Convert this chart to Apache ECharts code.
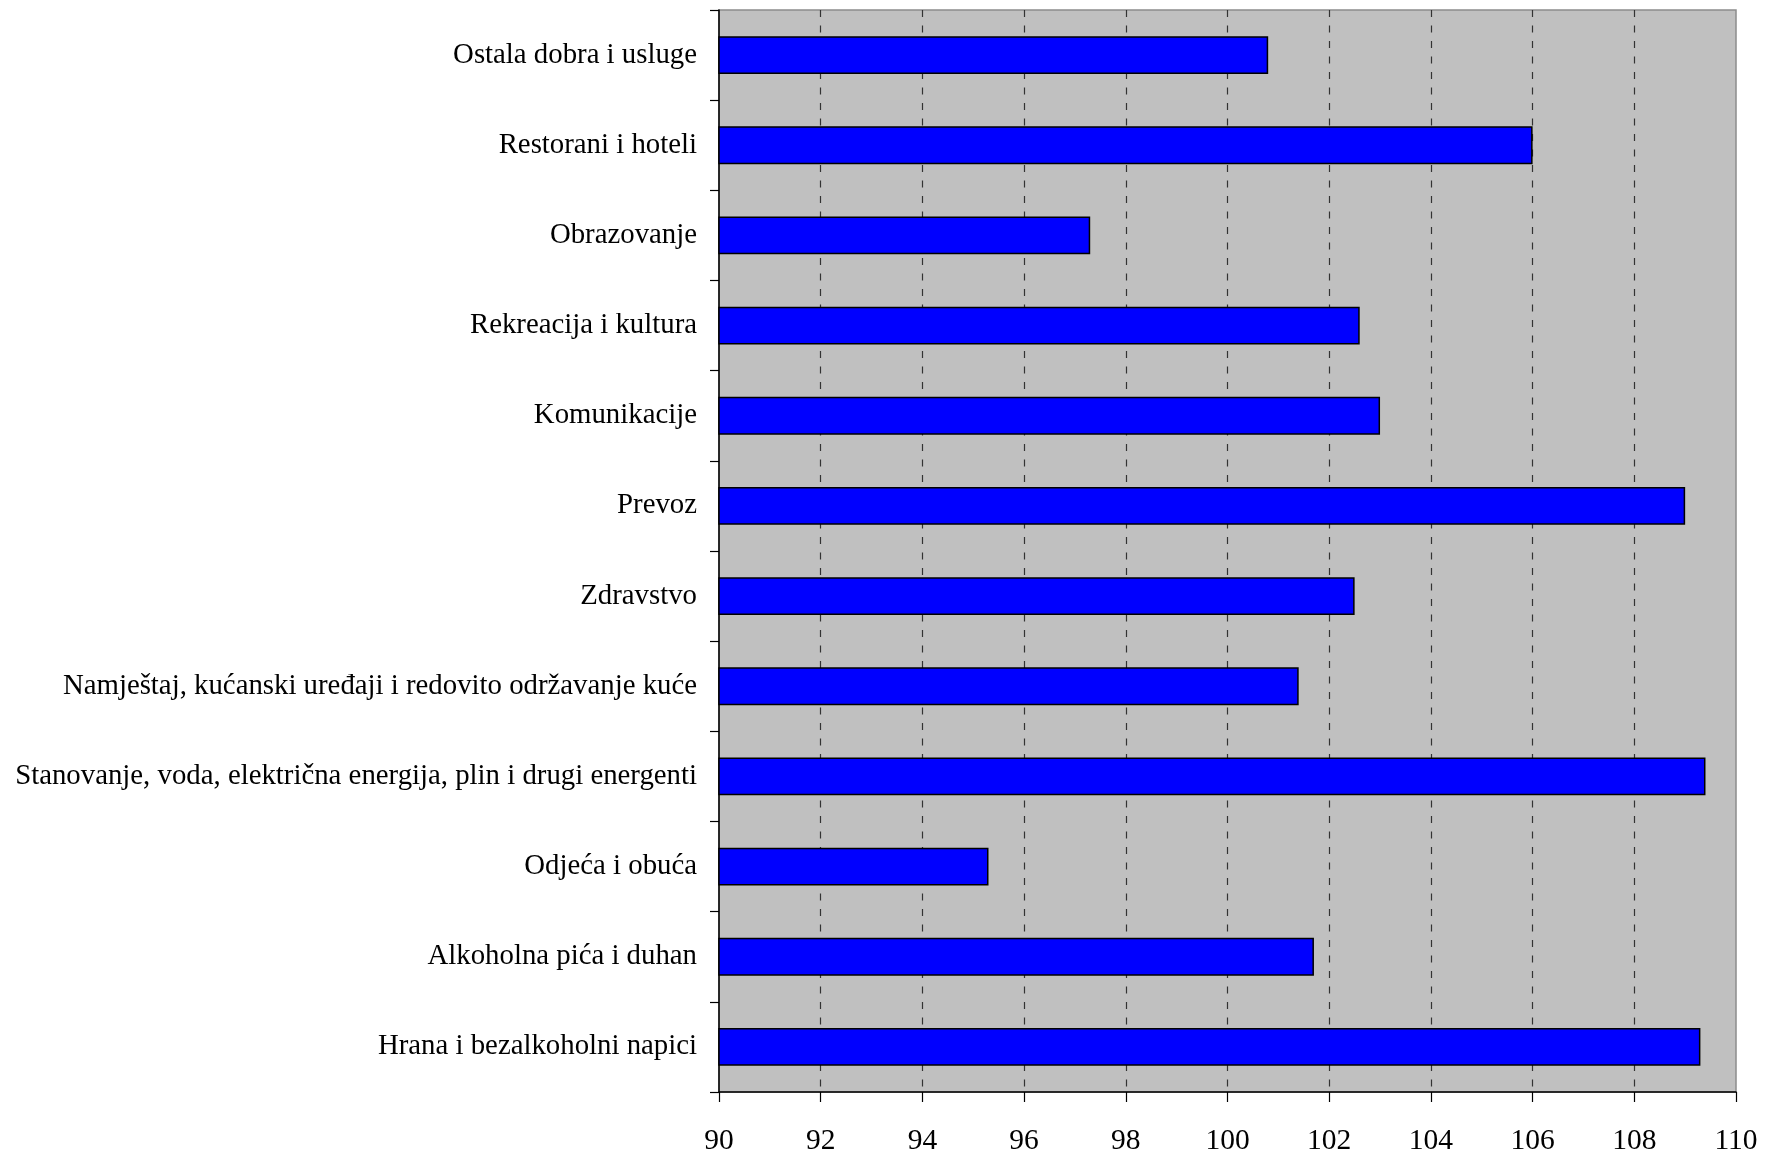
<!DOCTYPE html>
<html>
<head>
<meta charset="utf-8">
<script src="https://cdn.jsdelivr.net/npm/echarts@6/dist/echarts.min.js"></script>
<style>
html,body{margin:0;padding:0;background:#fff;}
#chart{width:1769px;height:1156px;}
</style>
</head>
<body>
<div id="chart"></div>
<script>
// Categories listed top to bottom as shown
var categories = [
  'Ostala dobra i usluge',
  'Restorani i hoteli',
  'Obrazovanje',
  'Rekreacija i kultura',
  'Komunikacije',
  'Prevoz',
  'Zdravstvo',
  'Namještaj, kućanski uređaji i redovito održavanje kuće',
  'Stanovanje, voda, električna energija, plin i drugi energenti',
  'Odjeća i obuća',
  'Alkoholna pića i duhan',
  'Hrana i bezalkoholni napici'
];
var values = [100.8, 106.0, 97.3, 102.6, 103.0, 109.0, 102.5, 101.4, 109.4, 95.3, 101.7, 109.3];
var xMin = 90, xMax = 110, xStep = 2;

var chart = echarts.init(document.getElementById('chart'));
chart.setOption({
  animation: false,
  backgroundColor: '#ffffff',
  grid: {
    left: 719, right: 33, top: 10, bottom: 63,
    show: true,
    backgroundColor: '#c0c0c0',
    borderColor: '#8c8c8c',
    borderWidth: 1.5
  },
  xAxis: {
    type: 'value',
    min: xMin, max: xMax, interval: xStep,
    axisLine: { show: true, lineStyle: { color: '#000', width: 1.5 } },
    axisTick: { show: true, inside: false, length: 10, lineStyle: { color: '#000', width: 1.2 } },
    axisLabel: { margin: 34, color: '#000', fontFamily: 'Liberation Serif', fontSize: 29.5 },
    splitLine: {
      show: true, showMinLine: false, showMaxLine: false,
      lineStyle: { color: '#333', width: 1.2, type: [7, 8.5] }
    }
  },
  yAxis: {
    type: 'category',
    data: categories,
    inverse: true,
    axisLine: { show: true, lineStyle: { color: '#000', width: 1.5 } },
    axisTick: { show: true, inside: false, length: 9, alignWithLabel: false, lineStyle: { color: '#000', width: 1.2 } },
    axisLabel: { margin: 22, color: '#000', fontFamily: 'Liberation Serif', fontSize: 28.8 },
    splitLine: { show: false }
  },
  series: [{
    type: 'bar',
    data: values,
    barCategoryGap: '58%',
    itemStyle: { color: '#0000ff', borderColor: '#000', borderWidth: 1.5 }
  }]
});
</script>
</body>
</html>
